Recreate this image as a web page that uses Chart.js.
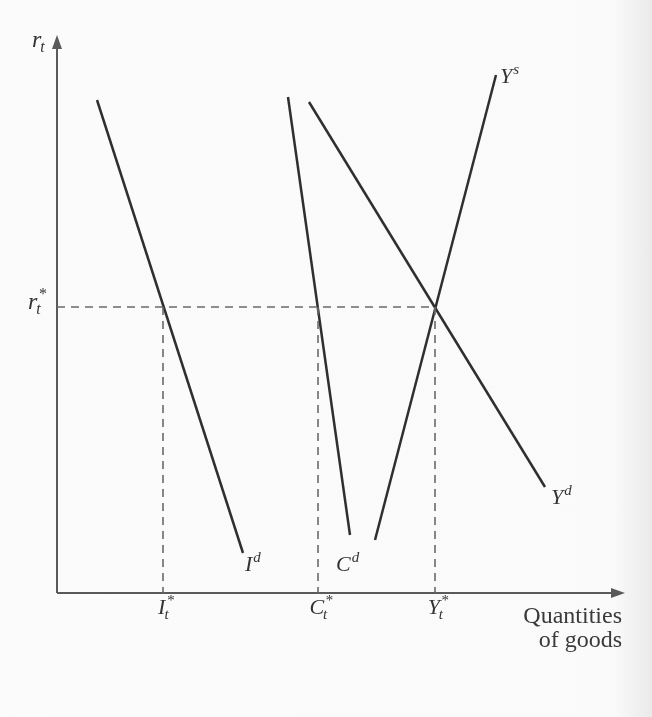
<!DOCTYPE html>
<html>
<head>
<meta charset="utf-8">
<script src="https://cdn.jsdelivr.net/npm/chart.js@4.4.1/dist/chart.umd.min.js"></script>
<style>
  html, body { margin: 0; padding: 0; }
  body {
    width: 652px; height: 717px; overflow: hidden;
    background: linear-gradient(to right, #fcfbfb 0%, #fbfafa 94%, #ebeaea 100%);
  }
  #wrap { position: relative; width: 652px; height: 717px; }
</style>
</head>
<body>
<div id="wrap"><canvas id="chart" width="652" height="717"></canvas></div>
<script>
// Courbes du marché des biens : [x, r] aux deux extrémités
const investDemand = [[40, 493], [186, 40]];      // I^d
const consumDemand = [[231, 496], [293, 58]];     // C^d
const supplyGoods  = [[318, 53], [439, 518]];     // Y^s
const demandGoods  = [[252, 491], [488, 106]];    // Y^d

// Équilibre : taux r* et quantités I*, C*, Y*
const rStar = 286;
const starX = [106, 261, 378];
const starLabels = ['I', 'C', 'Y'];

const INK = '#2f2f2f';
const AXIS = '#5a5a5a';
const DASH = '#6a6a6a';
const SERIF = '"Liberation Serif", "DejaVu Serif", serif';

const toPts = (arr) => arr.map(([x, y]) => ({ x, y }));

const lineSet = (arr) => ({
  data: toPts(arr), showLine: true, borderColor: INK, borderWidth: 2.5,
  pointRadius: 0, fill: false
});
const dashSet = (arr) => ({
  data: toPts(arr), showLine: true, borderColor: DASH, borderWidth: 1.6,
  borderDash: [8, 6], pointRadius: 0, fill: false
});

const datasets = [
  dashSet([[0, rStar], [starX[2], rStar]]),
  ...starX.map((x) => dashSet([[x, rStar], [x, 0]])),
  lineSet(investDemand),
  lineSet(consumDemand),
  lineSet(supplyGoods),
  lineSet(demandGoods)
];

// Texte avec indice et exposant (notation mathématique)
function mathText(ctx, x, y, base, sub, sup, size, align) {
  const f = `italic ${size}px ${SERIF}`;
  const fs = `italic ${Math.round(size * 0.68)}px ${SERIF}`;
  ctx.font = f;
  const wb = ctx.measureText(base).width;
  ctx.font = fs;
  const wsub = sub ? ctx.measureText(sub).width : 0;
  const wsup = sup ? ctx.measureText(sup).width : 0;
  const total = wb + Math.max(wsub, wsup) + 1;
  let x0 = x;
  if (align === 'center') x0 = x - total / 2;
  if (align === 'right') x0 = x - total;
  ctx.fillStyle = '#333';
  ctx.textBaseline = 'alphabetic';
  ctx.textAlign = 'left';
  ctx.font = f;
  ctx.fillText(base, x0, y);
  ctx.font = fs;
  if (sup) ctx.fillText(sup, x0 + wb + 1, y - size * 0.42);
  if (sub) ctx.fillText(sub, x0 + wb - 1, y + size * 0.22);
}

const axesPlugin = {
  id: 'axesPlugin',
  beforeDatasetsDraw(chart) {
    const { ctx, scales: { x, y } } = chart;
    const ox = x.getPixelForValue(0), oy = y.getPixelForValue(0);
    const topY = y.getPixelForValue(558), rightX = x.getPixelForValue(568);
    ctx.save();
    ctx.strokeStyle = AXIS; ctx.fillStyle = AXIS; ctx.lineWidth = 2;
    ctx.beginPath();
    ctx.moveTo(ox, oy); ctx.lineTo(ox, topY + 8);
    ctx.moveTo(ox, oy); ctx.lineTo(rightX - 10, oy);
    ctx.stroke();
    // flèches
    ctx.beginPath();
    ctx.moveTo(ox, topY); ctx.lineTo(ox - 5, topY + 14); ctx.lineTo(ox + 5, topY + 14);
    ctx.closePath(); ctx.fill();
    ctx.beginPath();
    ctx.moveTo(rightX, oy); ctx.lineTo(rightX - 14, oy - 5); ctx.lineTo(rightX - 14, oy + 5);
    ctx.closePath(); ctx.fill();
    ctx.restore();
  },
  afterDatasetsDraw(chart) {
    const { ctx, scales: { x, y } } = chart;
    const px = (v) => x.getPixelForValue(v), py = (v) => y.getPixelForValue(v);
    ctx.save();
    mathText(ctx, px(-25), py(546), 'r', 't', '', 24, 'left');
    mathText(ctx, px(-29), py(rStar) + 2, 'r', 't', '*', 24, 'left');
    mathText(ctx, px(investDemand[1][0]) + 2, py(investDemand[1][1]) + 18, 'I', '', 'd', 22, 'left');
    mathText(ctx, px(consumDemand[1][0]) - 14, py(consumDemand[1][1]) + 36, 'C', '', 'd', 22, 'left');
    mathText(ctx, px(supplyGoods[1][0]) + 4, py(supplyGoods[1][1]) + 8, 'Y', '', 's', 22, 'left');
    mathText(ctx, px(demandGoods[1][0]) + 6, py(demandGoods[1][1]) + 17, 'Y', '', 'd', 22, 'left');
    starX.forEach((v, i) => {
      mathText(ctx, px(v) + 3, py(0) + 21, starLabels[i], 't', '*', 22, 'center');
    });
    ctx.fillStyle = '#3a3a3a';
    ctx.font = `24px ${SERIF}`;
    ctx.textAlign = 'right';
    ctx.fillText('Quantities', px(565), py(0) + 30);
    ctx.fillText('of goods', px(565), py(0) + 54);
    ctx.restore();
  }
};

new Chart(document.getElementById('chart'), {
  type: 'scatter',
  data: { datasets },
  options: {
    responsive: false,
    animation: false,
    layout: { padding: 0 },
    plugins: { legend: { display: false }, tooltip: { enabled: false } },
    scales: {
      x: { type: 'linear', min: -57, max: 595, display: false },
      y: { type: 'linear', min: -124, max: 593, display: false }
    }
  },
  plugins: [axesPlugin]
});
</script>
</body>
</html>
